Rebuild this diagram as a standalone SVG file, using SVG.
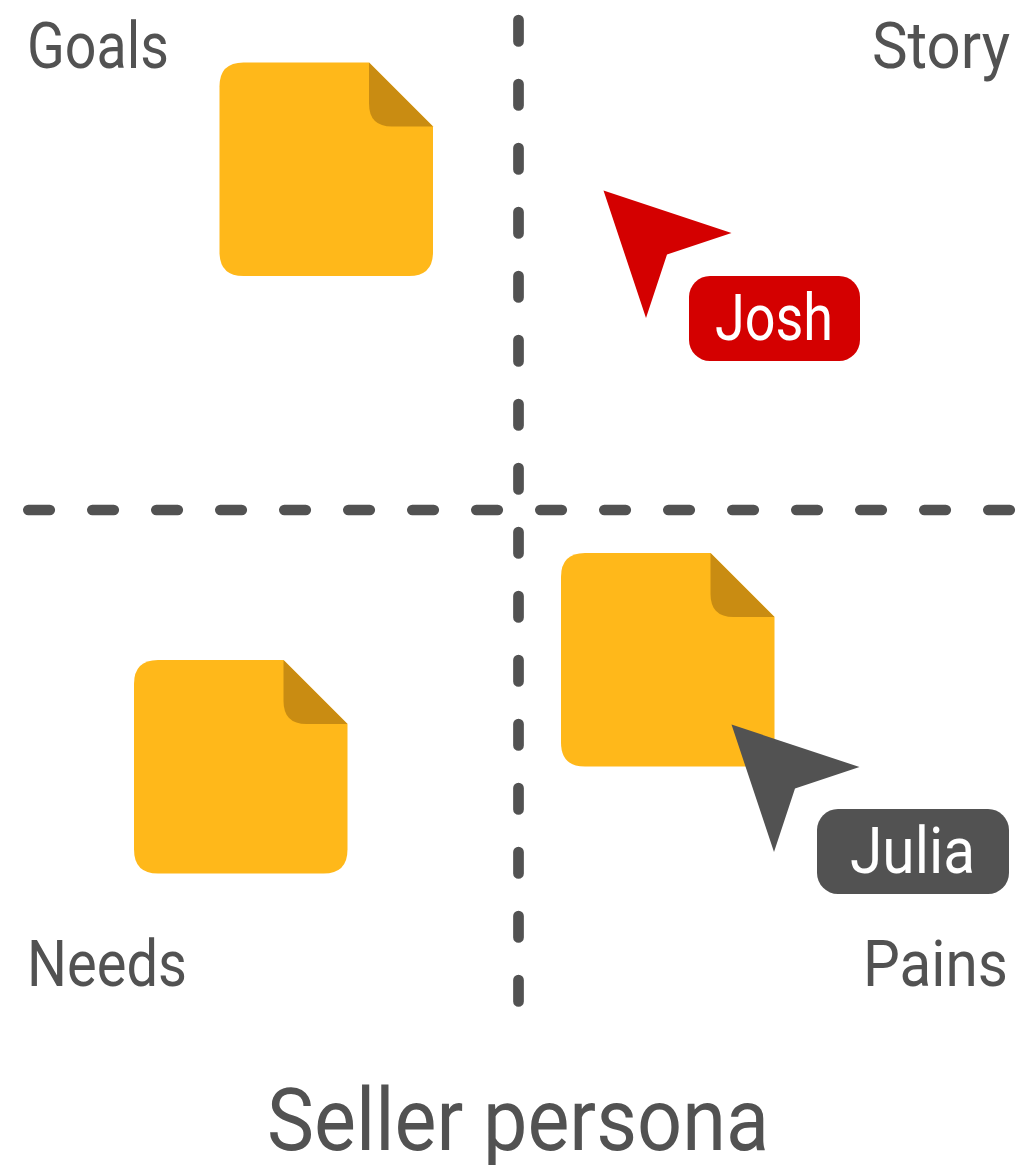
<svg xmlns="http://www.w3.org/2000/svg" width="1025" height="1165" viewBox="0 0 1025 1165">
<style>
.lbl{font-family:"Roboto","Liberation Sans",sans-serif;font-size:64px;fill:#525252}
.tag{font-family:"Roboto","Liberation Sans",sans-serif;font-size:64px;fill:#fff}
.title{font-family:"Roboto","Liberation Sans",sans-serif;font-size:88px;fill:#525252}
.dash{fill:none;stroke:#525252;stroke-width:10.7;stroke-linecap:round;stroke-dasharray:21.4 42.6}
.page{fill:#FFB81A}
.fold{fill:#C98C12}
</style>
<defs>
<g id="doc">
<path class="page" d="M24 0H149.500L213.500 64V189.500Q213.500 213.500 189.500 213.500H24Q0 213.500 0 189.500V24Q0 0 24 0Z"/>
<path class="fold" d="M149.500 0V41Q149.500 64 172.500 64H213.500Z"/>
</g>
<linearGradient id="fade" x1="0" x2="1" y1="0" y2="0"><stop offset="0" stop-color="#f6f6f6" stop-opacity="0"/><stop offset="1" stop-color="#f5f5f5"/></linearGradient>
<linearGradient id="fadeV" x1="0" x2="0" y1="0" y2="1"><stop offset="0" stop-color="#fff"/><stop offset="0.45" stop-color="#000"/></linearGradient>
<mask id="fadeM"><rect x="965" y="990" width="60" height="175" fill="url(#fadeV)"/></mask>
</defs>
<rect width="1025" height="1165" fill="#fff"/>
<rect x="965" y="990" width="60" height="175" fill="url(#fade)" mask="url(#fadeM)" style="display:none"/>
<g id="connectors">
<path class="dash" d="M28.350 510H1025"/>
<path class="dash" d="M518.500 20.100V1010"/>
</g>
<g id="doc-goals"><use href="#doc" x="219.500" y="62.500"/></g>
<g id="doc-needs"><use href="#doc" x="134" y="660"/></g>
<g id="doc-pains"><use href="#doc" x="561" y="553"/></g>
<g id="label-goals"><text class="lbl" x="27" y="68" textLength="142" lengthAdjust="spacingAndGlyphs">Goals</text></g>
<g id="label-story"><text class="lbl" x="872" y="68" textLength="138" lengthAdjust="spacingAndGlyphs">Story</text></g>
<g id="label-needs"><text class="lbl" x="27" y="986" textLength="160" lengthAdjust="spacingAndGlyphs">Needs</text></g>
<g id="label-pains"><text class="lbl" x="863" y="986" textLength="145" lengthAdjust="spacingAndGlyphs">Pains</text></g>
<g id="cursor-josh">
<path d="M603.500 190.500L731.500 233L667 254.500L646 318Z" fill="#D40000"/>
<rect x="689" y="276" width="171" height="85" rx="21" fill="#D40000"/>
<text class="tag" x="715" y="340" textLength="118" lengthAdjust="spacingAndGlyphs">Josh</text>
</g>
<g id="cursor-julia">
<path d="M731.500 724.500L859.500 767L795 788.500L774 852Z" fill="#525252"/>
<rect x="817" y="809" width="192" height="85" rx="21" fill="#525252"/>
<text class="tag" x="850" y="873" textLength="125" lengthAdjust="spacingAndGlyphs">Julia</text>
</g>
<g id="title"><text class="title" x="267" y="1150" textLength="502" lengthAdjust="spacingAndGlyphs">Seller persona</text></g>
</svg>
